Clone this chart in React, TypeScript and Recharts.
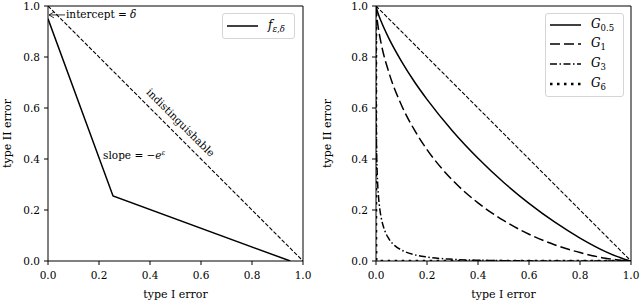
import React from 'react';
import { LineChart, Line, XAxis, YAxis, ReferenceLine, ReferenceDot } from 'recharts';

// axis ticks
const ticks = [0, 0.2, 0.4, 0.6, 0.8, 1.0];

// "indistinguishable" diagonal
const diagAlpha = [0, 1];
const diagBeta = [1, 0];

// f_{eps,delta} (left panel)
const fAlpha = [0, 0.255, 0.95];
const fBeta = [0.95, 0.255, 0];

// Gaussian trade-off curves (right panel)
const gAlpha = [0, 0.001, 0.005, 0.01, 0.02, 0.05, 0.1, 0.15, 0.2, 0.3, 0.4, 0.5, 0.6, 0.7, 0.8, 0.9, 0.95, 0.99, 1];
const g05Beta = [1, 0.995, 0.981, 0.966, 0.94, 0.874, 0.783, 0.704, 0.634, 0.51, 0.403, 0.309, 0.226, 0.153, 0.09, 0.037, 0.016, 0.002, 0];
const g1Beta = [1, 0.982, 0.943, 0.908, 0.854, 0.741, 0.611, 0.515, 0.437, 0.317, 0.228, 0.159, 0.105, 0.064, 0.033, 0.011, 0.004, 0.0004, 0];
const g3Alpha = [0, 0.000001, 0.00001, 0.0001, 0.001, 0.003, 0.005, 0.01, 0.015, 0.02, 0.03, 0.05, 0.075, 0.1, 0.15, 0.2, 0.3, 0.4, 0.5, 0.7, 1];
const g3Beta = [1, 0.96, 0.897, 0.764, 0.536, 0.4, 0.336, 0.25, 0.203, 0.172, 0.132, 0.0877, 0.0594, 0.0429, 0.0248, 0.0154, 0.0067, 0.003, 0.00135, 0.0002, 0];
const g6Alpha = [0, 0.000000001, 0.000001, 0.001, 0.01, 1];
const g6Beta = [1, 0.5, 0.106, 0.0018, 0, 0];

const toPoints = (xs: number[], ys: number[]) => xs.map((x, i) => ({ x, y: ys[i] }));

const FONT = '"DejaVu Serif", "Liberation Serif", serif';
const fmt = (v: number) => v.toFixed(1);
const tickStyle = { fill: '#000', fontSize: 10.5, fontFamily: FONT };
const DIAG_DASH = '4 1.8';

const XTitle = (props: any) => {
  const { x, y, width } = props.viewBox;
  return (
    <text x={x + width / 2} y={y + 37} textAnchor="middle" fontSize={11} fontFamily={FONT} fill="#000">
      type I error
    </text>
  );
};

const YTitle = (props: any) => {
  const { x, y, height } = props.viewBox;
  const cx = x + 11;
  const cy = y + height / 2;
  return (
    <text x={cx} y={cy} transform={`rotate(-90, ${cx}, ${cy})`} textAnchor="middle" fontSize={11} fontFamily={FONT} fill="#000">
      type II error
    </text>
  );
};

const InterceptNote = (props: any) => {
  const { cx, cy } = props;
  return (
    <g>
      <line x1={cx} y1={cy} x2={cx + 16} y2={cy} stroke="#000" strokeWidth={0.8} />
      <polyline points={`${cx + 5},${cy - 3} ${cx},${cy} ${cx + 5},${cy + 3}`} fill="none" stroke="#000" strokeWidth={0.8} />
      <text x={cx + 17} y={cy + 3.5} fontSize={10.5} fontFamily={FONT} fill="#000">
        intercept = <tspan fontStyle="italic">δ</tspan>
      </text>
    </g>
  );
};

const SlopeNote = (props: any) => {
  const { cx, cy } = props;
  return (
    <text x={cx} y={cy} fontSize={10.5} fontFamily={FONT} fill="#000">
      slope = −<tspan fontStyle="italic">e</tspan>
      <tspan fontSize={7} dy={-4} fontStyle="italic">ε</tspan>
    </text>
  );
};

const DiagNote = (props: any) => {
  const { cx, cy } = props;
  return (
    <text x={cx} y={cy} transform={`rotate(45, ${cx}, ${cy})`} textAnchor="middle" dominantBaseline="middle" fontSize={10.5} fontFamily={FONT} fill="#000">
      indistinguishable
    </text>
  );
};

const legendBox: React.CSSProperties = {
  position: 'absolute',
  border: '1px solid #d5d5d5',
  borderRadius: 3,
  background: 'rgba(255,255,255,0.85)',
  boxSizing: 'border-box',
  fontFamily: FONT,
  fontSize: 12,
  fontStyle: 'italic',
};

const LegendRow = ({ top, dash, width, label, sub }: any) => (
  <div style={{ position: 'absolute', left: 4, top: top - 8, height: 16, display: 'flex', alignItems: 'center' }}>
    <svg width={31} height={16}>
      <line x1={0} y1={8} x2={31} y2={8} stroke="#000" strokeWidth={width} strokeDasharray={dash} />
    </svg>
    <span style={{ marginLeft: 10, whiteSpace: 'nowrap' }}>
      {label}
      <sub style={{ fontSize: 8.5, fontStyle: sub.italic ? 'italic' : 'normal' }}>{sub.text}</sub>
    </span>
  </div>
);

const Panel = ({ left, right, yWidth, children }: any) => (
  <LineChart width={320} height={304} margin={{ top: 6, right, bottom: 0, left: 0 }} style={{ position: 'absolute', left, top: 0 }}>
    <XAxis
      type="number"
      dataKey="x"
      domain={[0, 1]}
      ticks={ticks}
      tickFormatter={fmt}
      height={43}
      stroke="#000"
      tick={tickStyle}
      tickSize={4}
      tickMargin={7}
      allowDataOverflow
      label={{ content: XTitle }}
    />
    <YAxis
      type="number"
      dataKey="y"
      domain={[0, 1]}
      ticks={ticks}
      tickFormatter={fmt}
      width={yWidth}
      stroke="#000"
      tick={tickStyle}
      tickSize={4}
      tickMargin={4}
      allowDataOverflow
      label={{ content: YTitle }}
    />
    <ReferenceLine x={1} stroke="#000" strokeWidth={1} />
    <ReferenceLine y={1} stroke="#000" strokeWidth={1} />
    {children}
  </LineChart>
);

export default function App() {
  const diag = toPoints(diagAlpha, diagBeta);
  return (
    <div style={{ position: 'absolute', left: 0, top: 0, width: 640, height: 304, background: '#fff' }}>
      <Panel left={0} right={17} yWidth={48}>
        <Line data={diag} dataKey="y" type="linear" stroke="#000" strokeWidth={1.1} strokeDasharray={DIAG_DASH} dot={false} activeDot={false} isAnimationActive={false} />
        <Line data={toPoints(fAlpha, fBeta)} dataKey="y" type="linear" stroke="#000" strokeWidth={1.5} dot={false} activeDot={false} isAnimationActive={false} />
        <ReferenceDot x={0.004} y={0.965} ifOverflow="visible" shape={InterceptNote} />
        <ReferenceDot x={0.216} y={0.4} ifOverflow="visible" shape={SlopeNote} />
        <ReferenceDot x={0.518} y={0.541} ifOverflow="visible" shape={DiagNote} />
      </Panel>
      <Panel left={320} right={9} yWidth={56}>
        <Line data={diag} dataKey="y" type="linear" stroke="#000" strokeWidth={1.1} strokeDasharray={DIAG_DASH} dot={false} activeDot={false} isAnimationActive={false} />
        <Line data={toPoints(gAlpha, g05Beta)} dataKey="y" type="monotone" stroke="#000" strokeWidth={1.5} dot={false} activeDot={false} isAnimationActive={false} />
        <Line data={toPoints(gAlpha, g1Beta)} dataKey="y" type="monotone" stroke="#000" strokeWidth={1.5} strokeDasharray="10 4" dot={false} activeDot={false} isAnimationActive={false} />
        <Line data={toPoints(g3Alpha, g3Beta)} dataKey="y" type="monotone" stroke="#000" strokeWidth={1.5} strokeDasharray="7 2.5 1.5 2.5" dot={false} activeDot={false} isAnimationActive={false} />
        <Line data={toPoints(g6Alpha, g6Beta)} dataKey="y" type="linear" stroke="#000" strokeWidth={2.5} strokeDasharray="2.5 4.5" dot={false} activeDot={false} isAnimationActive={false} />
      </Panel>
      <div style={{ ...legendBox, left: 222, top: 13, width: 73, height: 26 }}>
        <LegendRow top={12} width={1.5} label="f" sub={{ text: 'ε,δ', italic: true }} />
      </div>
      <div style={{ ...legendBox, left: 545, top: 13, width: 79, height: 84 }}>
        <LegendRow top={11} width={1.5} label="G" sub={{ text: '0.5', italic: false }} />
        <LegendRow top={30} width={1.5} dash="10 4" label="G" sub={{ text: '1', italic: false }} />
        <LegendRow top={50} width={1.5} dash="7 2.5 1.5 2.5" label="G" sub={{ text: '3', italic: false }} />
        <LegendRow top={70} width={2.5} dash="2.5 4.5" label="G" sub={{ text: '6', italic: false }} />
      </div>
    </div>
  );
}
